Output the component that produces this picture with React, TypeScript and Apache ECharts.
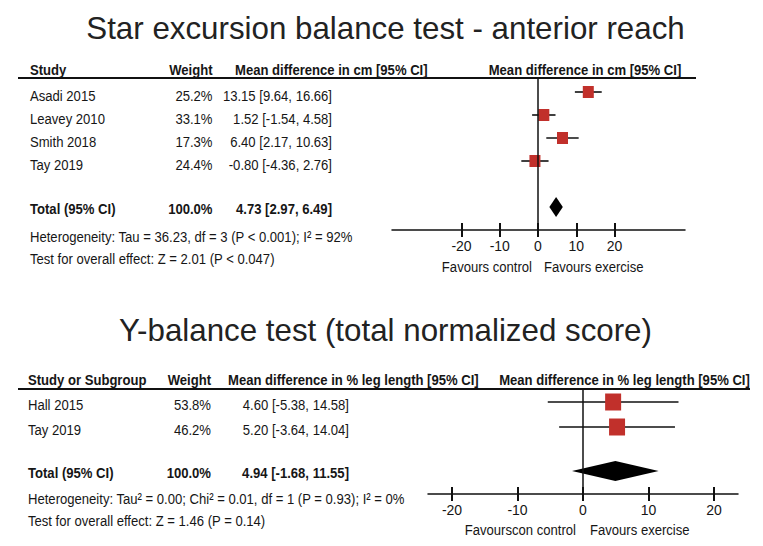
import React, { useEffect, useRef } from "react";
import * as echarts from "echarts";

// ---------------- Panel 1 data ----------------
const p1Title = "Star excursion balance test - anterior reach";
const p1HeadStudy = "Study";
const p1HeadWeight = "Weight";
const p1HeadMean = "Mean difference in cm [95% CI]";
const p1HeadPlot = "Mean difference in cm [95% CI]";
const p1Studies = ["Asadi 2015", "Leavey 2010", "Smith 2018", "Tay 2019"];
const p1Weights = ["25.2%", "33.1%", "17.3%", "24.4%"];
const p1Mean = [13.15, 1.52, 6.4, -0.8];
const p1Low = [9.64, -1.54, 2.17, -4.36];
const p1High = [16.66, 4.58, 10.63, 2.76];
const p1TotalLabel = "Total (95% CI)";
const p1TotalWeight = "100.0%";
const p1TotalMean = 4.73;
const p1TotalLow = 2.97;
const p1TotalHigh = 6.49;
const p1Heterogeneity = "Heterogeneity: Tau = 36.23, df = 3 (P < 0.001); I² = 92%";
const p1Overall = "Test for overall effect: Z = 2.01 (P < 0.047)";
const p1Ticks = [-20, -10, 0, 10, 20];
const p1Favours = ["Favours control", "Favours exercise"];

// ---------------- Panel 2 data ----------------
const p2Title = "Y-balance test (total normalized score)";
const p2HeadStudy = "Study or Subgroup";
const p2HeadWeight = "Weight";
const p2HeadMean = "Mean difference in % leg length [95% CI]";
const p2HeadPlot = "Mean difference in % leg length [95% CI]";
const p2Studies = ["Hall 2015", "Tay 2019"];
const p2Weights = ["53.8%", "46.2%"];
const p2Mean = [4.6, 5.2];
const p2Low = [-5.38, -3.64];
const p2High = [14.58, 14.04];
const p2TotalLabel = "Total (95% CI)";
const p2TotalWeight = "100.0%";
const p2TotalMean = 4.94;
const p2TotalLow = -1.68;
const p2TotalHigh = 11.55;
const p2Heterogeneity = "Heterogeneity: Tau² = 0.00; Chi² = 0.01, df = 1 (P = 0.93); I² = 0%";
const p2Overall = "Test for overall effect: Z = 1.46 (P = 0.14)";
const p2Ticks = [-20, -10, 0, 10, 20];
const p2Favours = ["Favourscon control", "Favours exercise"];

// ---------------- Layout (pixels) ----------------
const LAYOUT1 = {
  titleY: 28, lineX0: 18, lineX1: 696, headY: 70, gridTop: 78, gridBottom: 230,
  axisX0: 392, axisX1: 685, zeroX: 538, ppu: 3.825, row0: 92, rowStep: 23,
  totalRow: 5, textDy: 3.5, totalTextY: 208.5, hetY: 237, overallY: 259, favY: 267,
  colStudy: 30, colWeight: 212.5, colHeadMean: 235, colMean: 332, plotHeadX: 585,
  favGap: 6, box: [11, 12],
};
const LAYOUT2 = {
  titleY: 330, lineX0: 18, lineX1: 750, headY: 380, gridTop: 389, gridBottom: 494,
  axisX0: 428, axisX1: 738, zeroX: 583, ppu: 6.55, row0: 402, rowStep: 25,
  totalRow: 2.76, textDy: 3, totalTextY: 473, hetY: 499, overallY: 521, favY: 530,
  colStudy: 28, colWeight: 211, colHeadMean: 228, colMean: 349, plotHeadX: 624.5,
  favGap: 7, box: [16, 17],
};

const TEXT = "#161616";
const RED = "#c1302b";

const fmt = (m: number, l: number, h: number) =>
  `${m.toFixed(2)} [${l.toFixed(2)}, ${h.toFixed(2)}]`;

function hasFont(name: string) {
  try {
    const c = document.createElement("canvas").getContext("2d");
    if (!c) return false;
    const s = "Asadi 2015 Weight Mean difference 0123";
    c.font = "16px monospace";
    const w0 = c.measureText(s).width;
    c.font = `16px '${name}', monospace`;
    const w1 = c.measureText(s).width;
    return Math.abs(w0 - w1) > 0.5;
  } catch (e) {
    return false;
  }
}

function buildPanel(P: any, L: any, g: number, fam: string, sx: number, axisFontSize: number) {
  const xMin = (L.axisX0 - L.zeroX) / L.ppu;
  const xMax = (L.axisX1 - L.zeroX) / L.ppu;
  const yMin = (L.gridTop - L.row0) / L.rowStep;
  const yMax = (L.gridBottom - L.row0) / L.rowStep;
  const xi = g * 2;

  const grid = {
    left: L.axisX0, top: L.gridTop, width: L.axisX1 - L.axisX0,
    height: L.gridBottom - L.gridTop, containLabel: false, outerBoundsMode: "none",
  };
  const tickLine = { color: "#111", width: 2 };
  const xAxes = [
    {
      gridIndex: g, type: "value", min: xMin, max: xMax, position: "bottom",
      axisLine: { show: true, onZero: false, lineStyle: { color: "#111", width: 1.5 } },
      axisTick: { show: true, inside: false, length: 7, customValues: P.ticks, lineStyle: tickLine },
      axisLabel: {
        show: true, customValues: P.ticks, margin: 9, color: TEXT,
        fontFamily: fam, fontSize: axisFontSize, formatter: (v: number) => String(v),
      },
      splitLine: { show: false },
    },
    {
      gridIndex: g, type: "value", min: xMin, max: xMax, position: "bottom",
      axisLine: { show: false, onZero: false },
      axisTick: { show: true, inside: true, length: 7, customValues: P.ticks, lineStyle: tickLine },
      axisLabel: { show: false },
      splitLine: { show: false },
    },
  ];
  const yAxis = {
    gridIndex: g, type: "value", inverse: true, min: yMin, max: yMax, show: false,
    axisLine: { onZero: false }, splitLine: { show: false },
  };

  const rows = P.mean.map((_: number, i: number) => i);
  const series: any[] = [
    {
      type: "custom", xAxisIndex: xi, yAxisIndex: g, z: 2,
      data: rows.map((i: number) => [P.low[i], P.high[i], i]),
      encode: { x: [0, 1], y: 2 },
      renderItem: (_p: any, api: any) => {
        const a = api.coord([api.value(0), api.value(2)]);
        const b = api.coord([api.value(1), api.value(2)]);
        return {
          type: "line",
          shape: { x1: a[0], y1: a[1], x2: b[0], y2: b[1] },
          style: { stroke: "#111", lineWidth: 1.6 },
        };
      },
      markLine: {
        silent: true, symbol: "none", label: { show: false },
        lineStyle: { color: "#111", width: 1.5, type: "solid" },
        data: [{ xAxis: 0 }],
      },
    },
    {
      type: "scatter", xAxisIndex: xi, yAxisIndex: g, z: 3,
      symbol: "rect", symbolSize: L.box,
      itemStyle: { color: RED, opacity: 1 },
      data: rows.map((i: number) => [P.mean[i], i]),
    },
    {
      type: "custom", xAxisIndex: xi, yAxisIndex: g, z: 3,
      data: [[P.totalLow, P.totalMean, P.totalHigh, L.totalRow]],
      encode: { x: [0, 2], y: 3 },
      renderItem: (_p: any, api: any) => {
        const l = api.coord([api.value(0), api.value(3)]);
        const m = api.coord([api.value(1), api.value(3)]);
        const h = api.coord([api.value(2), api.value(3)]);
        return {
          type: "polygon",
          shape: { points: [[l[0], m[1]], [m[0], m[1] - 10], [h[0], m[1]], [m[0], m[1] + 10]] },
          style: { fill: "#000" },
        };
      },
    },
  ];

  const size = 15.5;
  const txt = (x: number, y: number, text: string, align: string, bold = false) => ({
    type: "text", x, y, scaleX: sx, silent: true,
    style: {
      text, fill: TEXT, textAlign: align, textVerticalAlign: "middle",
      font: `${bold ? "bold " : ""}${size}px ${fam}`,
    },
  });

  const graphics: any[] = [
    {
      type: "text", x: 385.5, y: L.titleY, silent: true,
      style: {
        text: P.title, fill: "#222", textAlign: "center", textVerticalAlign: "middle",
        font: "31.3px 'Liberation Sans', Arial, sans-serif",
      },
    },
    {
      type: "line", silent: true,
      shape: { x1: L.lineX0, y1: L.gridTop, x2: L.lineX1, y2: L.gridTop },
      style: { stroke: "#111", lineWidth: 2 },
    },
    txt(L.colStudy, L.headY, P.headStudy, "left", true),
    txt(L.colWeight, L.headY, P.headWeight, "right", true),
    txt(L.colHeadMean, L.headY, P.headMean, "left", true),
    txt(L.plotHeadX, L.headY, P.headPlot, "center", true),
  ];
  rows.forEach((i: number) => {
    const y = L.row0 + L.rowStep * i + L.textDy;
    graphics.push(txt(L.colStudy, y, P.studies[i], "left"));
    graphics.push(txt(L.colWeight, y, P.weights[i], "right"));
    graphics.push(txt(L.colMean, y, fmt(P.mean[i], P.low[i], P.high[i]), "right"));
  });
  graphics.push(txt(L.colStudy, L.totalTextY, P.totalLabel, "left", true));
  graphics.push(txt(L.colWeight, L.totalTextY, P.totalWeight, "right", true));
  graphics.push(txt(L.colMean, L.totalTextY, fmt(P.totalMean, P.totalLow, P.totalHigh), "right", true));
  graphics.push(txt(L.colStudy, L.hetY, P.het, "left"));
  graphics.push(txt(L.colStudy, L.overallY, P.overall, "left"));
  graphics.push(txt(L.zeroX - L.favGap, L.favY, P.favours[0], "right"));
  graphics.push(txt(L.zeroX + L.favGap, L.favY, P.favours[1], "left"));

  return { grid, xAxes, yAxis, series, graphics };
}

export default function App() {
  const ref = useRef<HTMLDivElement>(null);
  useEffect(() => {
    if (!ref.current) return;
    const narrow = hasFont("Liberation Sans Narrow");
    const fam = narrow ? "'Liberation Sans Narrow', 'Arial Narrow', sans-serif" : "'Liberation Sans', Arial, sans-serif";
    const sx = narrow ? 1.03 : 0.845;
    const axisFontSize = narrow ? 15.5 : 14;

    const P1 = {
      title: p1Title, headStudy: p1HeadStudy, headWeight: p1HeadWeight, headMean: p1HeadMean,
      headPlot: p1HeadPlot, studies: p1Studies, weights: p1Weights, mean: p1Mean, low: p1Low,
      high: p1High, totalLabel: p1TotalLabel, totalWeight: p1TotalWeight, totalMean: p1TotalMean,
      totalLow: p1TotalLow, totalHigh: p1TotalHigh, het: p1Heterogeneity, overall: p1Overall,
      ticks: p1Ticks, favours: p1Favours,
    };
    const P2 = {
      title: p2Title, headStudy: p2HeadStudy, headWeight: p2HeadWeight, headMean: p2HeadMean,
      headPlot: p2HeadPlot, studies: p2Studies, weights: p2Weights, mean: p2Mean, low: p2Low,
      high: p2High, totalLabel: p2TotalLabel, totalWeight: p2TotalWeight, totalMean: p2TotalMean,
      totalLow: p2TotalLow, totalHigh: p2TotalHigh, het: p2Heterogeneity, overall: p2Overall,
      ticks: p2Ticks, favours: p2Favours,
    };
    const a = buildPanel(P1, LAYOUT1, 0, fam, sx, axisFontSize);
    const b = buildPanel(P2, LAYOUT2, 1, fam, sx, axisFontSize);

    const chart = echarts.init(ref.current, undefined, { renderer: "svg" });
    chart.setOption({
      animation: false,
      backgroundColor: "#ffffff",
      grid: [a.grid, b.grid],
      xAxis: [...a.xAxes, ...b.xAxes],
      yAxis: [a.yAxis, b.yAxis],
      series: [...a.series, ...b.series],
      graphic: { elements: [...a.graphics, ...b.graphics] },
    } as any);
    return () => chart.dispose();
  }, []);
  return (
    <div
      ref={ref}
      style={{ position: "absolute", left: 0, top: 0, width: 763, height: 546, background: "#fff" }}
    />
  );
}
